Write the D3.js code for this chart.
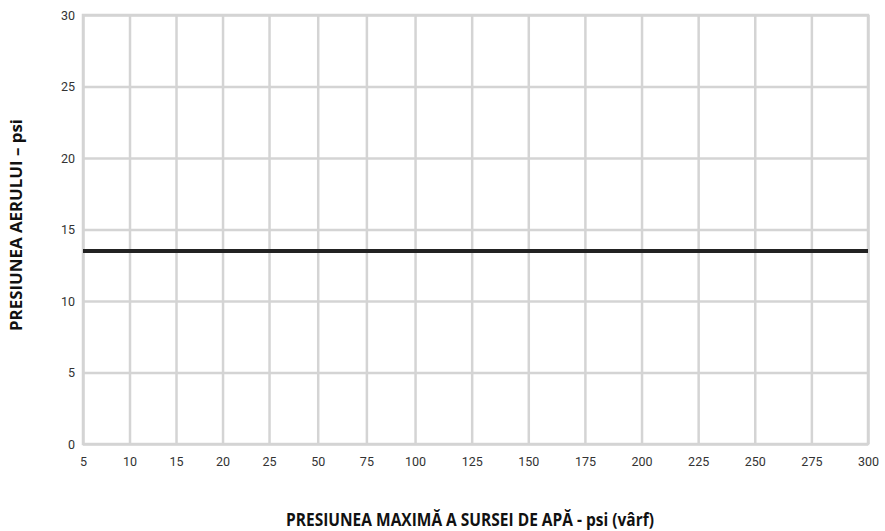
<!DOCTYPE html>
<html>
<head>
<meta charset="utf-8">
<script src="https://cdn.jsdelivr.net/npm/d3@7"></script>
<style>
  html, body { margin: 0; padding: 0; background: #fff; }
  svg { display: block; }
</style>
</head>
<body>
<svg id="chart" width="885" height="531"></svg>
<script>
// ---- data ----
const waterPressure = [5, 10, 15, 20, 25, 50, 75, 100, 125, 150, 175, 200, 225, 250, 275, 300];
const airPressure   = [13.5, 13.5, 13.5, 13.5, 13.5, 13.5, 13.5, 13.5, 13.5, 13.5, 13.5, 13.5, 13.5, 13.5, 13.5, 13.5];
const yTicks = [0, 5, 10, 15, 20, 25, 30];
const xTitle = "PRESIUNEA MAXIMĂ A SURSEI DE APĂ - psi (vârf)";
const yTitle = "PRESIUNEA AERULUI – psi";

// ---- layout ----
const svg = d3.select("#chart");
const margin = { left: 83, top: 15, right: 17, bottom: 87 };
const W = 885, H = 531;
const iw = W - margin.left - margin.right;
const ih = H - margin.top - margin.bottom;

const g = svg.append("g").attr("transform", `translate(${margin.left},${margin.top})`);

// piecewise (polylinear) x scale, as in the original axis
const x = d3.scaleLinear()
  .domain([5, 25, 100, 300])
  .range([0, iw * 0.237, iw * 0.423, iw]);
const y = d3.scaleLinear().domain([0, 30]).range([ih, 0]);

const gridColor = "#d4d4d4";

// vertical grid
g.append("g")
  .attr("transform", `translate(0,${ih})`)
  .call(d3.axisBottom(x).tickValues(waterPressure).tickSize(-ih).tickFormat(""))
  .call(a => a.select(".domain").remove())
  .call(a => a.selectAll("line").attr("stroke", gridColor).attr("stroke-width", 2.5));

// horizontal grid
g.append("g")
  .call(d3.axisLeft(y).tickValues(yTicks).tickSize(-iw).tickFormat(""))
  .call(a => a.select(".domain").remove())
  .call(a => a.selectAll("line").attr("stroke", gridColor).attr("stroke-width", 2.5));

// frame
g.append("rect")
  .attr("x", 0).attr("y", 0).attr("width", iw).attr("height", ih)
  .attr("fill", "none").attr("stroke", gridColor).attr("stroke-width", 2.5);

// x tick labels
g.append("g")
  .attr("transform", `translate(0,${ih})`)
  .call(d3.axisBottom(x).tickValues(waterPressure).tickSize(0).tickPadding(13).tickFormat(d3.format("d")))
  .call(a => a.select(".domain").remove())
  .call(a => a.selectAll("text")
    .attr("font-family", "Roboto, 'Open Sans', sans-serif")
    .attr("font-size", 12.5).attr("fill", "#333"));

// y tick labels
g.append("g")
  .call(d3.axisLeft(y).tickValues(yTicks).tickSize(0).tickPadding(8).tickFormat(d3.format("d")))
  .call(a => a.select(".domain").remove())
  .call(a => a.selectAll("text")
    .attr("font-family", "Roboto, 'Open Sans', sans-serif")
    .attr("font-size", 12.5).attr("fill", "#333"));

// data line
const line = d3.line().x((d, i) => x(waterPressure[i])).y(d => y(d));
g.append("path")
  .datum(airPressure)
  .attr("d", line)
  .attr("fill", "none")
  .attr("stroke", "#222")
  .attr("stroke-width", 4);

// axis titles
svg.append("text")
  .attr("x", 470).attr("y", 526)
  .attr("text-anchor", "middle")
  .attr("font-family", "'Open Sans', 'Noto Sans', sans-serif")
  .attr("font-weight", "bold")
  .attr("font-size", 17)
  .attr("textLength", 368)
  .attr("lengthAdjust", "spacingAndGlyphs")
  .attr("fill", "#111")
  .text(xTitle);

svg.append("text")
  .attr("transform", "translate(22,225) rotate(-90)")
  .attr("text-anchor", "middle")
  .attr("font-family", "'Open Sans', 'Noto Sans', sans-serif")
  .attr("font-weight", "bold")
  .attr("font-size", 16)
  .attr("textLength", 212)
  .attr("lengthAdjust", "spacingAndGlyphs")
  .attr("fill", "#111")
  .text(yTitle);
</script>
</body>
</html>
